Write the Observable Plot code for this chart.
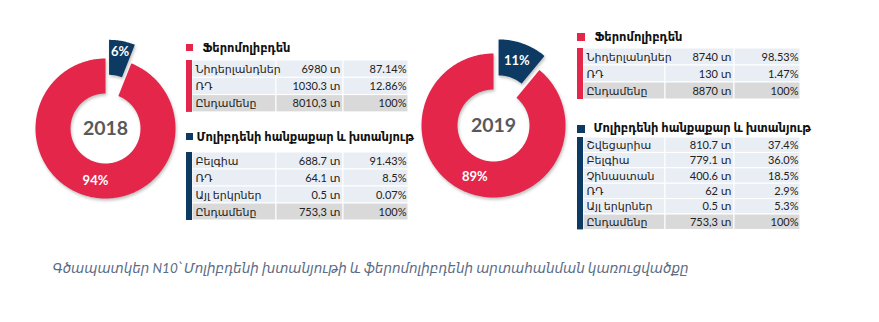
<!DOCTYPE html>
<html><head><meta charset="utf-8">
<script src="https://cdn.jsdelivr.net/npm/d3@7"></script>
<script src="https://cdn.jsdelivr.net/npm/@observablehq/plot@0.6"></script>
<style>body{margin:0;background:#fff}</style>
</head><body><div id="chart"></div>
<script>
// ---------- data ----------
const years = ["2018", "2019"];
const sliceNames = ["Մոլիբդենի հանքաքար և խտանյութ", "Ֆերոմոլիբդեն"];
const shares2018 = [6, 94];
const shares2019 = [11, 89];

const feroTitle = "Ֆերոմոլիբդեն";
const oreTitle = "Մոլիբդենի հանքաքար և խտանյութ";

const fero2018Names = ["Նիդերլանդներ", "ՌԴ", "Ընդամենը"];
const fero2018Tons = ["6980 տ", "1030.3 տ", "8010,3 տ"];
const fero2018Pct = ["87.14%", "12.86%", "100%"];

const ore2018Names = ["Բելգիա", "ՌԴ", "Այլ երկրներ", "Ընդամենը"];
const ore2018Tons = ["688.7 տ", "64.1 տ", "0.5 տ", "753,3 տ"];
const ore2018Pct = ["91.43%", "8.5%", "0.07%", "100%"];

const fero2019Names = ["Նիդերլանդներ", "ՌԴ", "Ընդամենը"];
const fero2019Tons = ["8740 տ", "130 տ", "8870 տ"];
const fero2019Pct = ["98.53%", "1.47%", "100%"];

const ore2019Names = ["Շվեցարիա", "Բելգիա", "Չինաստան", "ՌԴ", "Այլ երկրներ", "Ընդամենը"];
const ore2019Tons = ["810.7 տ", "779.1 տ", "400.6 տ", "62 տ", "0.5 տ", "753,3 տ"];
const ore2019Pct = ["37.4%", "36.0%", "18.5%", "2.9%", "5.3%", "100%"];

const caption = "Գծապատկեր N10՝ Մոլիբդենի խտանյութի և ֆերոմոլիբդենի արտահանման կառուցվածքը";

// ---------- styles / layout ----------
const W = 879, H = 322;
const RED = "#E4264A", NAVY = "#0D3A63";
const sliceColors = [NAVY, RED];
const ROWBG = "#E9EDF4", TOTALBG = "#D9D9D9";
const FONT = "Lato, 'DejaVu Sans', sans-serif";

const donuts = [
  {year: years[0], shares: shares2018, cx: 105, cy: 128, rOut: 70, rIn: 35, explode: 19, labelOut: 78},
  {year: years[1], shares: shares2019, cx: 493, cy: 125, rOut: 72, rIn: 36, explode: 15, labelOut: 69}
];

const tables = [
  {title: feroTitle, color: RED, names: fero2018Names, tons: fero2018Tons, pct: fero2018Pct,
   L: {barX: 186, barW: 6, cols: [192, 276, 343, 408], top: 60, rowH: 17.3, sqY: 44, sqS: 7, titleX: 202, titleY: 48}},
  {title: oreTitle, color: NAVY, names: ore2018Names, tons: ore2018Tons, pct: ore2018Pct,
   L: {barX: 186, barW: 6, cols: [192, 276, 343, 408], top: 152, rowH: 17, sqY: 133, sqS: 7, titleX: 196, titleY: 137}},
  {title: feroTitle, color: RED, names: fero2019Names, tons: fero2019Tons, pct: fero2019Pct,
   L: {barX: 577, barW: 6, cols: [583, 665, 734, 800], top: 48, rowH: 17, sqY: 33, sqS: 8, titleX: 594, titleY: 37}},
  {title: oreTitle, color: NAVY, names: ore2019Names, tons: ore2019Tons, pct: ore2019Pct,
   L: {barX: 577, barW: 6, cols: [583, 665, 734, 800], top: 137, rowH: 15.4, sqY: 125, sqS: 8, titleX: 593, titleY: 128}}
];

// ---------- derived geometry ----------
const deg = Math.PI / 180;
const arcPts = [], sliceLabels = [], centerLabels = [];
donuts.forEach((dn, di) => {
  const total = d3.sum(dn.shares);
  let a0 = 0;
  dn.shares.forEach((v, si) => {
    const a1 = a0 + v / total * 2 * Math.PI;
    const mid = (a0 + a1) / 2;
    const off = si === 0 ? dn.explode : 0;
    const ox = off * Math.sin(mid), oy = -off * Math.cos(mid);
    const n = Math.max(8, Math.ceil((a1 - a0) / deg));
    const key = di + "-" + si;
    for (let k = 0; k <= n; k++) {
      const a = a0 + (a1 - a0) * k / n;
      arcPts.push({key, slice: si, x: dn.cx + ox + dn.rOut * Math.sin(a), y: dn.cy + oy - dn.rOut * Math.cos(a)});
    }
    for (let k = n; k >= 0; k--) {
      const a = a0 + (a1 - a0) * k / n;
      arcPts.push({key, slice: si, x: dn.cx + ox + dn.rIn * Math.sin(a), y: dn.cy + oy - dn.rIn * Math.cos(a)});
    }
    const lr = si === 0 ? dn.labelOut : (dn.rOut + dn.rIn) / 2 + 1;
    sliceLabels.push({x: dn.cx + lr * Math.sin(mid), y: dn.cy - lr * Math.cos(mid), text: v + "%"});
    a0 = a1;
  });
  centerLabels.push({x: dn.cx, y: dn.cy, text: dn.year});
});

const cellRects = [], barRects = [], squares = [], titles = [], cellTexts = [];
tables.forEach(t => {
  const L = t.L, n = t.names.length;
  squares.push({x1: L.barX, x2: L.barX + L.sqS, y1: L.sqY, y2: L.sqY + L.sqS, fill: t.color});
  titles.push({x: L.titleX, y: L.titleY, text: t.title});
  barRects.push({x1: L.barX, x2: L.barX + L.barW, y1: L.top, y2: L.top + n * L.rowH, fill: t.color});
  for (let r = 0; r < n; r++) {
    const y1 = L.top + r * L.rowH, y2 = y1 + L.rowH;
    const bg = r === n - 1 ? TOTALBG : ROWBG;
    for (let c = 0; c < 3; c++) cellRects.push({x1: L.cols[c], x2: L.cols[c + 1], y1, y2, fill: bg});
    const ym = (y1 + y2) / 2;
    cellTexts.push({x: L.cols[0] + 3, y: ym, text: t.names[r], anchor: "start"});
    cellTexts.push({x: L.cols[2] - 3, y: ym, text: t.tons[r], anchor: "end"});
    cellTexts.push({x: L.cols[3] - 2, y: ym, text: t.pct[r], anchor: "end"});
  }
});

// ---------- plot ----------
const marks = [];
d3.groups(arcPts, d => d.key).forEach(([key, pts]) => {
  marks.push(Plot.line(pts, {x: "x", y: "y", fill: sliceColors[pts[0].slice], stroke: "none", curve: "linear-closed"}));
});
marks.push(
  Plot.text(sliceLabels, {x: "x", y: "y", text: "text", fill: "white", fontWeight: "bold", fontSize: 13, fontFamily: FONT}),
  Plot.text(centerLabels, {x: "x", y: "y", text: "text", fill: "#595959", fontWeight: "bold", fontSize: 19.5, fontFamily: FONT}),
  Plot.rect(cellRects, {x1: "x1", x2: "x2", y1: "y1", y2: "y2", fill: "fill", stroke: "white", strokeWidth: 1}),
  Plot.rect(barRects, {x1: "x1", x2: "x2", y1: "y1", y2: "y2", fill: "fill"}),
  Plot.rect(squares, {x1: "x1", x2: "x2", y1: "y1", y2: "y2", fill: "fill"}),
  Plot.text(titles, {x: "x", y: "y", text: "text", textAnchor: "start", fontWeight: "bold", fontSize: 11.5, fill: "#111", fontFamily: FONT}),
  Plot.text(cellTexts, {x: "x", y: "y", text: "text", textAnchor: "start", fontSize: 11, fill: "#222", fontFamily: FONT,
    filter: d => d.anchor === "start"}),
  Plot.text(cellTexts, {x: "x", y: "y", text: "text", textAnchor: "end", fontSize: 11, fill: "#222", fontFamily: FONT,
    filter: d => d.anchor === "end"}),
  Plot.text([caption], {x: () => 52, y: () => 268, text: d => d, textAnchor: "start", fontStyle: "italic",
    fontSize: 13.5, fill: "#5B6B84", fontFamily: FONT})
);

const chart = Plot.plot({
  width: W, height: H,
  margin: 0,
  x: {domain: [0, W], range: [0, W], axis: null},
  y: {domain: [0, H], range: [0, H], axis: null},
  color: {type: "identity"},
  style: {background: "white"},
  marks
});
d3.select(chart).selectAll("path").style("filter", "drop-shadow(1px 2px 1.5px rgba(0,0,0,0.25))");
document.getElementById("chart").append(chart);
</script>
</body></html>
